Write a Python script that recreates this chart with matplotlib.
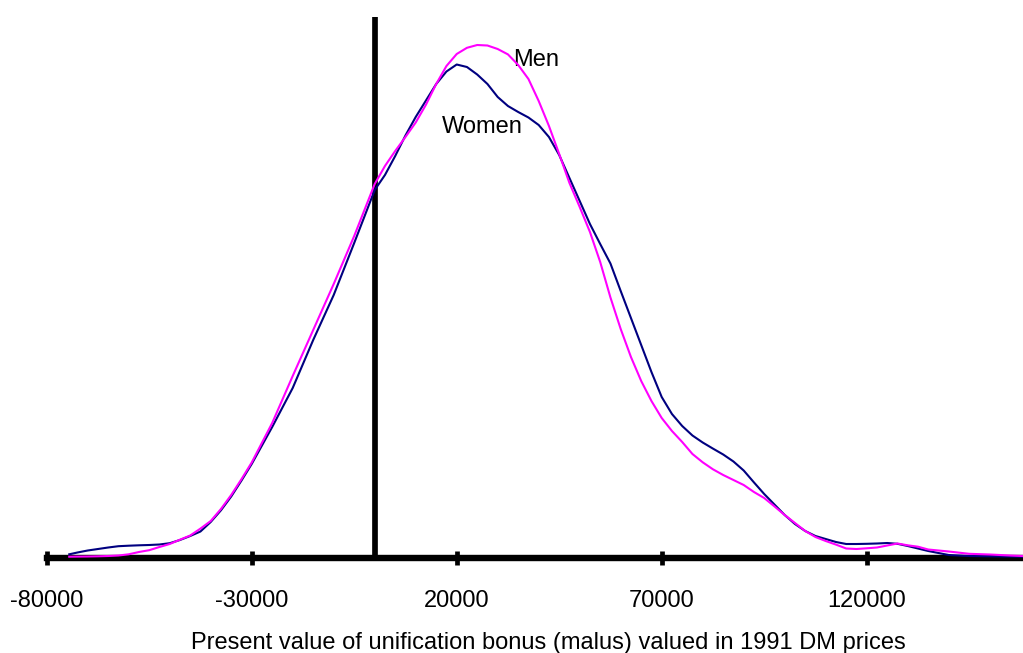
import matplotlib
matplotlib.use("Agg")
import matplotlib.pyplot as plt

# Grid of bonus values (DM, 1991 prices)
x_vals = [-74500, -72500, -70000, -67500, -65000, -62500, -60000, -57500, -55000,
          -52500, -50000, -47500, -45000, -42500, -40000, -37500, -35000, -32500,
          -30000, -25000, -20000, -15000, -10000, -5000, 0, 2500, 5000, 7500,
          10000, 12500, 15000, 17500, 20000, 22500, 25000, 27500, 30000, 32500,
          35000, 37500, 40000, 42500, 45000, 47500, 50000, 52500, 55000, 57500,
          60000, 62500, 65000, 67500, 70000, 72500, 75000, 77500, 80000, 82500,
          85000, 87500, 90000, 92500, 95000, 97500, 100000, 102500, 105000,
          107500, 110000, 112500, 115000, 117500, 120000, 122500, 125000,
          127500, 130000, 132500, 135000, 140000, 145000, 150000, 155000, 158000]

# Estimated density (arbitrary units)
women = [2.7, 4.5, 6.5, 8.0, 9.5, 10.8, 11.3, 11.7, 12.0,
         12.5, 13.8, 17.0, 21.0, 25.5, 35.0, 46.7, 60.5, 76.4,
         93.0, 130.0, 169.0, 217.0, 262.0, 314.0, 367.0, 382.0, 401.0, 421.5,
         440.0, 456.5, 473.0, 485.5, 492.5, 490.0, 482.5, 473.0, 460.0, 451.0,
         445.0, 439.5, 432.0, 420.0, 402.0, 379.0, 356.0, 333.0, 313.0, 293.5,
         266.0, 239.0, 212.0, 185.0, 160.0, 143.0, 131.0, 121.5, 114.5, 108.4,
         102.5, 95.5, 86.5, 74.6, 63.0, 52.5, 42.0, 33.0, 26.0,
         21.0, 18.0, 15.0, 13.0, 13.0, 13.2, 13.5, 14.0,
         13.2, 11.0, 8.5, 6.0, 2.0, 1.0, 0.7, 0.5, 0.3]
men = [0.3, 0.4, 0.5, 0.7, 1.0, 1.5, 2.7, 5.0, 6.8,
       10.0, 13.0, 17.3, 21.5, 28.4, 36.0, 48.0, 62.0, 77.8,
       94.5, 134.0, 181.0, 227.0, 273.0, 321.0, 373.0, 391.0, 406.0, 420.0,
       434.5, 452.3, 473.0, 491.0, 503.0, 509.2, 512.0, 511.5, 508.0, 502.6,
       492.0, 478.0, 456.0, 431.0, 403.0, 374.0, 350.0, 325.0, 295.0, 259.5,
       228.0, 200.0, 176.0, 156.0, 139.0, 126.0, 115.0, 103.0, 94.7, 87.7,
       82.0, 77.0, 72.0, 65.0, 59.0, 50.6, 42.0, 34.0, 26.0,
       20.0, 16.0, 12.4, 8.5, 8.0, 8.7, 9.5, 11.5,
       13.5, 11.7, 10.3, 7.5, 5.5, 3.2, 2.5, 1.5, 1.0]

tick_vals = [-80000, -30000, 20000, 70000, 120000]
tick_labels = ["-80000", "-30000", "20000", "70000", "120000"]

plt.rcParams['font.family'] = ['Liberation Sans', 'DejaVu Sans']

fig = plt.figure(figsize=(10.23, 6.53), dpi=100)
ax = fig.add_axes([0.04565, 0.14502, 0.95435, 0.82894])
ax.set_xlim(-80000, 158122)
ax.set_ylim(-1.3, 540)

ax.plot(x_vals, women, color='#000080', lw=1.5, zorder=3,
        solid_joinstyle='round')
ax.plot(x_vals, men, color='#FF00FF', lw=1.5, zorder=4,
        solid_joinstyle='round')
ax.axvline(0, color='black', lw=4.1, solid_capstyle='butt', zorder=2)

for s in ['top', 'left', 'right']:
    ax.spines[s].set_visible(False)
ax.spines['bottom'].set_linewidth(4.6)
ax.spines['bottom'].set_zorder(1)
ax.set_yticks([])
ax.set_xticks(tick_vals)
ax.set_xticklabels(tick_labels, fontsize=17)
ax.tick_params(axis='x', direction='inout', length=9.6, width=3.4, pad=18)

ax.text(33700, 491.3, "Men", fontsize=17, ha='left', va='baseline')
ax.text(16500, 423.7, "Women", fontsize=17, ha='left', va='baseline')

fig.text(548.8 / 1023, (653 - 649) / 653,
         "Present value of unification bonus (malus) valued in 1991 DM prices",
         fontsize=17, ha='center', va='baseline')

fig.savefig("out.png", dpi=100)
